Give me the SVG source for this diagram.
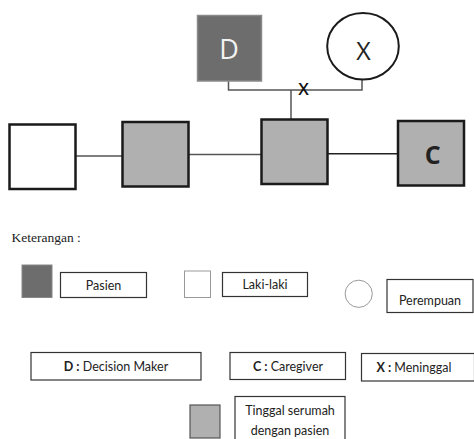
<svg xmlns="http://www.w3.org/2000/svg" width="474" height="439" viewBox="0 0 474 439">
<style>
.bg{fill:#fff}
.pers{stroke:#1a1a1a;stroke-width:2.5}
.gray{fill:#b0b0b0}
.white{fill:#fff}
.link{stroke:#555;stroke-width:1.5;fill:none}
.box{fill:#fff;stroke:#333;stroke-width:1.2}
.lbl{font-family:Lato,"Open Sans",sans-serif;font-size:12.5px;fill:#222;text-anchor:middle}
.big{font-family:"Open Sans",Lato,sans-serif;font-size:26px;text-anchor:middle}
</style>
<rect class="bg" width="474" height="439"/>
<g id="connectors">
<path class="link" d="M228.5 81V90H362V80"/>
<path class="link" d="M291 90V120"/>
<path class="link" d="M76 156H122"/>
<path class="link" d="M188 154.5H261"/>
<path class="link" d="M327 153.7H398" style="stroke:#222"/>
<text x="303.5" y="95" class="big" style="font-size:17px;font-weight:600;fill:#111">X</text>
</g>
<g id="node-D">
<rect x="197.5" y="15.5" width="64" height="65.5" fill="#6d6d6d" stroke="#8a8a8a" stroke-width="1.5"/>
<text x="229" y="59" class="big" style="fill:#f2f2f2;font-size:27px">D</text>
</g>
<g id="node-X">
<ellipse cx="363" cy="46.3" rx="35.8" ry="33.3" fill="#fff" stroke="#1a1a1a" stroke-width="2"/>
<text x="363.5" y="60" class="big" style="fill:#222;font-size:25px">X</text>
</g>
<g id="node-1">
<rect class="pers white" x="9.5" y="124.5" width="66" height="64.5"/>
</g>
<g id="node-2">
<rect class="pers gray" x="122.5" y="122" width="66" height="64.5"/>
</g>
<g id="node-3">
<rect class="pers gray" x="261.5" y="119.5" width="66" height="64.5"/>
</g>
<g id="node-C">
<rect class="pers gray" x="398" y="121" width="66" height="64.5"/>
<text x="432.7" y="164" class="big" style="font-size:25px;font-weight:bold;fill:#222">C</text>
</g>
<g id="legend">
<text x="11.5" y="242" font-family="'Liberation Serif',serif" font-size="13.5" fill="#222">Keterangan :</text>
<rect x="22" y="265" width="30" height="32.5" fill="#6d6d6d" stroke="#888" stroke-width="1"/>
<rect class="box" x="60.5" y="272.5" width="86" height="25"/>
<text x="103.5" y="290" class="lbl">Pasien</text>
<rect x="184.5" y="271" width="26" height="26.5" fill="#fff" stroke="#999" stroke-width="1"/>
<rect class="box" x="222.5" y="272.5" width="85" height="24"/>
<text x="265" y="289" class="lbl">Laki-laki</text>
<circle cx="358.7" cy="293.8" r="13.6" fill="#fff" stroke="#999" stroke-width="1"/>
<rect class="box" x="387" y="279.5" width="86" height="33"/>
<text x="430" y="305" class="lbl">Perempuan</text>
<rect class="box" x="31" y="352.5" width="170" height="27.5"/>
<text x="116" y="371" class="lbl"><tspan font-weight="bold">D :</tspan> Decision Maker</text>
<rect class="box" x="230" y="352.5" width="115.5" height="27"/>
<text x="288" y="371" class="lbl"><tspan font-weight="bold">C :</tspan> Caregiver</text>
<rect class="box" x="361.5" y="353.5" width="113" height="27.5"/>
<text x="414" y="372" class="lbl"><tspan font-weight="bold">X :</tspan> Meninggal</text>
<rect x="190" y="405" width="30" height="33" fill="#b0b0b0" stroke="#555" stroke-width="1.2"/>
<rect class="box" x="235" y="396.5" width="110" height="45"/>
<text x="290" y="415" class="lbl">Tinggal serumah</text>
<text x="290" y="435" class="lbl">dengan pasien</text>
</g>
</svg>
